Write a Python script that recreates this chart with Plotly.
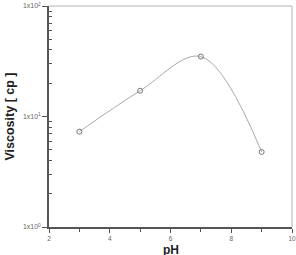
import plotly.graph_objects as go

ph = [3, 5, 7, 9]
viscosity = [7.3, 17.1, 34.9, 4.78]
y_tickvals = [1, 10, 100]
y_ticktext = ["1x10<sup>0</sup>", "1x10<sup>1</sup>", "1x10<sup>2</sup>"]
x_tickvals = [2, 4, 6, 8, 10]
x_title = "pH"
y_title = "Viscosity [ cp ]"

fig = go.Figure()
fig.add_trace(go.Scatter(
    x=ph, y=viscosity, mode="lines+markers",
    line=dict(shape="spline", smoothing=1.0, color="#aaaaaa", width=1),
    marker=dict(symbol="circle-open", size=5, color="#777777", line=dict(width=1)),
    showlegend=False,
))

fig.update_layout(
    width=296, height=255,
    margin=dict(l=49, r=4, t=6, b=28),
    paper_bgcolor="white", plot_bgcolor="white",
    font=dict(family="Liberation Sans, Arial, sans-serif", color="#444"),
)
fig.update_xaxes(
    range=[2, 10], tickvals=x_tickvals, ticks="outside", ticklen=4, tickwidth=1,
    tickcolor="#555", showline=True, linecolor="#555", linewidth=1.5,
    mirror=False, showgrid=False, zeroline=False, automargin=False,
    tickfont=dict(size=6.5, color="#666"), ticklabelstandoff=0,
    minor=dict(tickvals=[3, 5, 7, 9], ticks="outside", ticklen=3, tickcolor="#555", showgrid=False),
)
fig.update_yaxes(
    type="log", range=[0, 2], tickvals=y_tickvals, ticktext=y_ticktext,
    ticks="outside", ticklen=5, tickwidth=1, tickcolor="#555",
    showline=True, linecolor="#555", linewidth=1.5, showgrid=False, zeroline=False,
    automargin=False,
    tickfont=dict(size=7, color="#666"),
    minor=dict(ticks="inside", ticklen=3, tickcolor="#555", showgrid=False,
               tickvals=[2, 3, 4, 5, 6, 7, 8, 9, 20, 30, 40, 50, 60, 70, 80, 90]),
)
fig.add_annotation(text="<b>" + x_title + "</b>", xref="paper", yref="paper", x=0.5, y=0,
                   xanchor="center", yanchor="top", yshift=-15, borderpad=0, showarrow=False,
                   font=dict(size=12, color="#222"))
fig.add_annotation(text="<b>" + y_title + "</b>", xref="paper", yref="paper", x=0, y=0.5,
                   xanchor="center", yanchor="middle", xshift=-40, textangle=-90,
                   showarrow=False, font=dict(size=12.5, color="#222"))
# light top/right frame
fig.add_shape(type="line", xref="paper", yref="paper", x0=0, x1=1, y0=1, y1=1,
              line=dict(color="#cccccc", width=1.5))
fig.add_shape(type="line", xref="paper", yref="paper", x0=1, x1=1, y0=0, y1=1,
              line=dict(color="#cccccc", width=1.5))

fig.write_html("out.html")
